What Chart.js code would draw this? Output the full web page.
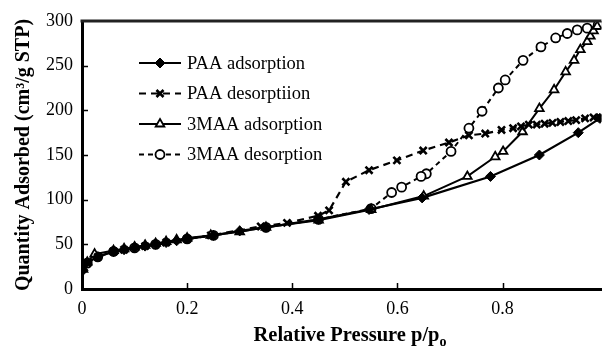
<!DOCTYPE html>
<html>
<head>
<meta charset="utf-8">
<script src="https://cdn.jsdelivr.net/npm/chart.js@4.4.1/dist/chart.umd.min.js"></script>
<style>
  html, body { margin: 0; padding: 0; background: #fff; }
  #wrap { width: 609px; height: 350px; }
</style>
</head>
<body>
<div id="wrap"><canvas id="iso"></canvas></div>
<script>
// values
const seriesNames = ['PAA adsorption', 'PAA desorptiion', '3MAA adsorption', '3MAA desorption'];

const paaAdsX = [0.002, 0.008, 0.03, 0.06, 0.08, 0.1, 0.12, 0.14, 0.16, 0.18, 0.2, 0.25, 0.3, 0.35, 0.45, 0.546, 0.647, 0.777, 0.87, 0.944, 0.985];
const paaAdsY = [21, 29, 36, 42, 44, 46, 48, 50, 52, 54, 56, 60, 65, 69, 78, 89, 102, 126, 150, 175, 191];

const paaDesX = [0.985, 0.973, 0.957, 0.94, 0.925, 0.91, 0.895, 0.88, 0.865, 0.85, 0.835, 0.82, 0.798, 0.767, 0.736, 0.698, 0.649, 0.599, 0.546, 0.502, 0.47, 0.449, 0.39, 0.34, 0.245, 0.2, 0.16, 0.12, 0.08, 0.06, 0.03, 0.01];
const paaDesY = [192, 192, 191, 189, 188, 187, 186, 185, 184, 184, 182, 180, 178, 174, 172, 164, 155, 144, 133, 120, 88, 82, 74, 70, 60, 56, 52, 48, 44, 42, 36, 29];

const maaAdsX = [0.002, 0.01, 0.024, 0.06, 0.08, 0.1, 0.12, 0.14, 0.16, 0.18, 0.2, 0.245, 0.3, 0.35, 0.45, 0.55, 0.65, 0.733, 0.786, 0.801, 0.838, 0.87, 0.898, 0.92, 0.936, 0.948, 0.961, 0.967, 0.973, 0.98];
const maaAdsY = [22, 30, 39, 43, 45, 47, 49, 51, 53, 55, 57, 60, 64, 69, 77, 89, 104, 126, 148, 154, 176, 202, 223, 243, 256, 268, 277, 283, 289, 294];

const maaDesX = [0.982, 0.961, 0.942, 0.923, 0.901, 0.873, 0.839, 0.805, 0.792, 0.761, 0.736, 0.702, 0.655, 0.645, 0.608, 0.589, 0.55, 0.45, 0.35, 0.25, 0.2, 0.14, 0.1, 0.06, 0.03, 0.01];
const maaDesY = [296, 292, 290, 286, 281, 271, 256, 234, 225, 199, 180, 154, 129, 126, 114, 108, 90, 78, 69, 60, 56, 50, 46, 42, 36, 29];

const xTicks = [0, 0.2, 0.4, 0.6, 0.8];
const yTicks = [0, 50, 100, 150, 200, 250, 300];

const serif = "'Liberation Serif', 'Times New Roman', serif";

function pts(xs, ys) {
    return xs.map((x, i) => ({ x: x, y: ys[i] }));
}

// legend drawn inside the plot, like the original figure
const insideLegend = {
    id: 'insideLegend',
    afterDraw(chart) {
        const ctx = chart.ctx;
        ctx.save();
        chart.data.datasets.forEach((ds, i) => {
            const y = 63 + i * 30.5;
            ctx.strokeStyle = '#000';
            ctx.lineWidth = ds.borderWidth;
            ctx.setLineDash(ds.borderDash || []);
            ctx.beginPath();
            ctx.moveTo(139, y);
            ctx.lineTo(181, y);
            ctx.stroke();
            ctx.setLineDash([]);
            ctx.fillStyle = ds.pointBackgroundColor;
            ctx.lineWidth = ds.pointBorderWidth;
            Chart.helpers.drawPoint(ctx, {
                pointStyle: ds.pointStyle,
                radius: ds.pointRadius,
                borderWidth: ds.pointBorderWidth,
                rotation: 0
            }, 160, y);
            ctx.fillStyle = '#000';
            ctx.font = '18.5px ' + serif;
            ctx.textAlign = 'left';
            ctx.textBaseline = 'middle';
            ctx.fillText(ds.label, 187, y + 1);
        });
        ctx.restore();
    }
};

// frame top line, inward ticks and the x title with subscript
const frameBits = {
    id: 'frameBits',
    afterDraw(chart) {
        const ctx = chart.ctx;
        const a = chart.chartArea;
        const xs = chart.scales.x, ys = chart.scales.y;
        ctx.save();
        ctx.strokeStyle = '#222';
        ctx.lineWidth = 3;
        ctx.beginPath();
        ctx.moveTo(a.left - 1.5, a.top);
        ctx.lineTo(a.right, a.top);
        ctx.stroke();
        ctx.lineWidth = 1.5;
        ctx.strokeStyle = '#000';
        ctx.beginPath();
        xTicks.slice(1).forEach(v => {
            const px = Math.round(xs.getPixelForValue(v)) + 0.5;
            ctx.moveTo(px, a.bottom);
            ctx.lineTo(px, a.bottom - 6);
        });
        yTicks.slice(1, -1).forEach(v => {
            const py = Math.round(ys.getPixelForValue(v)) + 0.5;
            ctx.moveTo(a.left, py);
            ctx.lineTo(a.left + 6, py);
        });
        ctx.stroke();

        ctx.fillStyle = '#000';
        ctx.textBaseline = 'alphabetic';
        ctx.textAlign = 'left';
        const main = 'Relative Pressure p/p';
        ctx.font = 'bold 20.5px ' + serif;
        const w = ctx.measureText(main).width;
        ctx.font = 'bold 14px ' + serif;
        const ws = ctx.measureText('o').width;
        const x0 = 350 - (w + ws) / 2;
        ctx.font = 'bold 20.5px ' + serif;
        ctx.fillText(main, x0, 341);
        ctx.font = 'bold 14px ' + serif;
        ctx.fillText('o', x0 + w, 346);
        ctx.restore();
    }
};

const common = {
    borderColor: '#000',
    pointBorderColor: '#000',
    showLine: true,
    tension: 0,
    fill: false
};

const ctx = document.getElementById('iso').getContext('2d');
const isoChart = new Chart(ctx, {
    type: 'scatter',
    data: {
        datasets: [
            Object.assign({}, common, {
                label: seriesNames[0],
                data: pts(paaAdsX, paaAdsY),
                borderWidth: 2.2,
                pointStyle: 'rectRot',
                pointRadius: 5,
                pointBorderWidth: 1,
                pointBackgroundColor: '#000'
            }),
            Object.assign({}, common, {
                label: seriesNames[1],
                data: pts(paaDesX, paaDesY),
                borderWidth: 2.2,
                borderDash: [7, 5],
                pointStyle: 'crossRot',
                pointRadius: 5,
                pointBorderWidth: 2.6,
                pointBackgroundColor: '#000'
            }),
            Object.assign({}, common, {
                label: seriesNames[2],
                data: pts(maaAdsX, maaAdsY),
                borderWidth: 2,
                pointStyle: 'triangle',
                pointRadius: 5,
                pointBorderWidth: 1.8,
                pointBackgroundColor: '#fff'
            }),
            Object.assign({}, common, {
                label: seriesNames[3],
                data: pts(maaDesX, maaDesY),
                borderWidth: 2,
                borderDash: [5, 4],
                pointStyle: 'circle',
                pointRadius: 4.5,
                pointBorderWidth: 1.8,
                pointBackgroundColor: '#fff'
            })
        ]
    },
    options: {
        responsive: true,
        maintainAspectRatio: false,
        animation: false,
        layout: { padding: { top: 21, right: 0, left: 0, bottom: 0 } },
        plugins: {
            legend: { display: false },
            tooltip: { enabled: false }
        },
        scales: {
            x: {
                type: 'linear',
                min: 0,
                max: 0.988,
                afterBuildTicks: s => { s.ticks = xTicks.map(v => ({ value: v })); },
                afterFit: s => { s.height = 61; },
                grid: { display: false, drawTicks: false },
                border: { display: true, color: '#000', width: 3 },
                ticks: {
                    color: '#000',
                    padding: 9,
                    maxRotation: 0,
                    font: { family: serif, size: 18 },
                    callback: v => (v === 0 ? '0' : v.toFixed(1))
                }
            },
            y: {
                type: 'linear',
                min: 0,
                max: 300,
                afterBuildTicks: s => { s.ticks = yTicks.map(v => ({ value: v })); },
                afterFit: s => { s.width = 82; },
                grid: { display: false, drawTicks: false },
                border: { display: true, color: '#000', width: 3 },
                ticks: {
                    color: '#000',
                    padding: 9,
                    font: { family: serif, size: 18 }
                },
                title: {
                    display: true,
                    text: 'Quantity Adsorbed (cm\u00b3/g STP)',
                    color: '#000',
                    padding: { top: 12, bottom: 0 },
                    font: { family: serif, size: 20, weight: 'bold' }
                }
            }
        }
    },
    plugins: [insideLegend, frameBits]
});
</script>
</body>
</html>
